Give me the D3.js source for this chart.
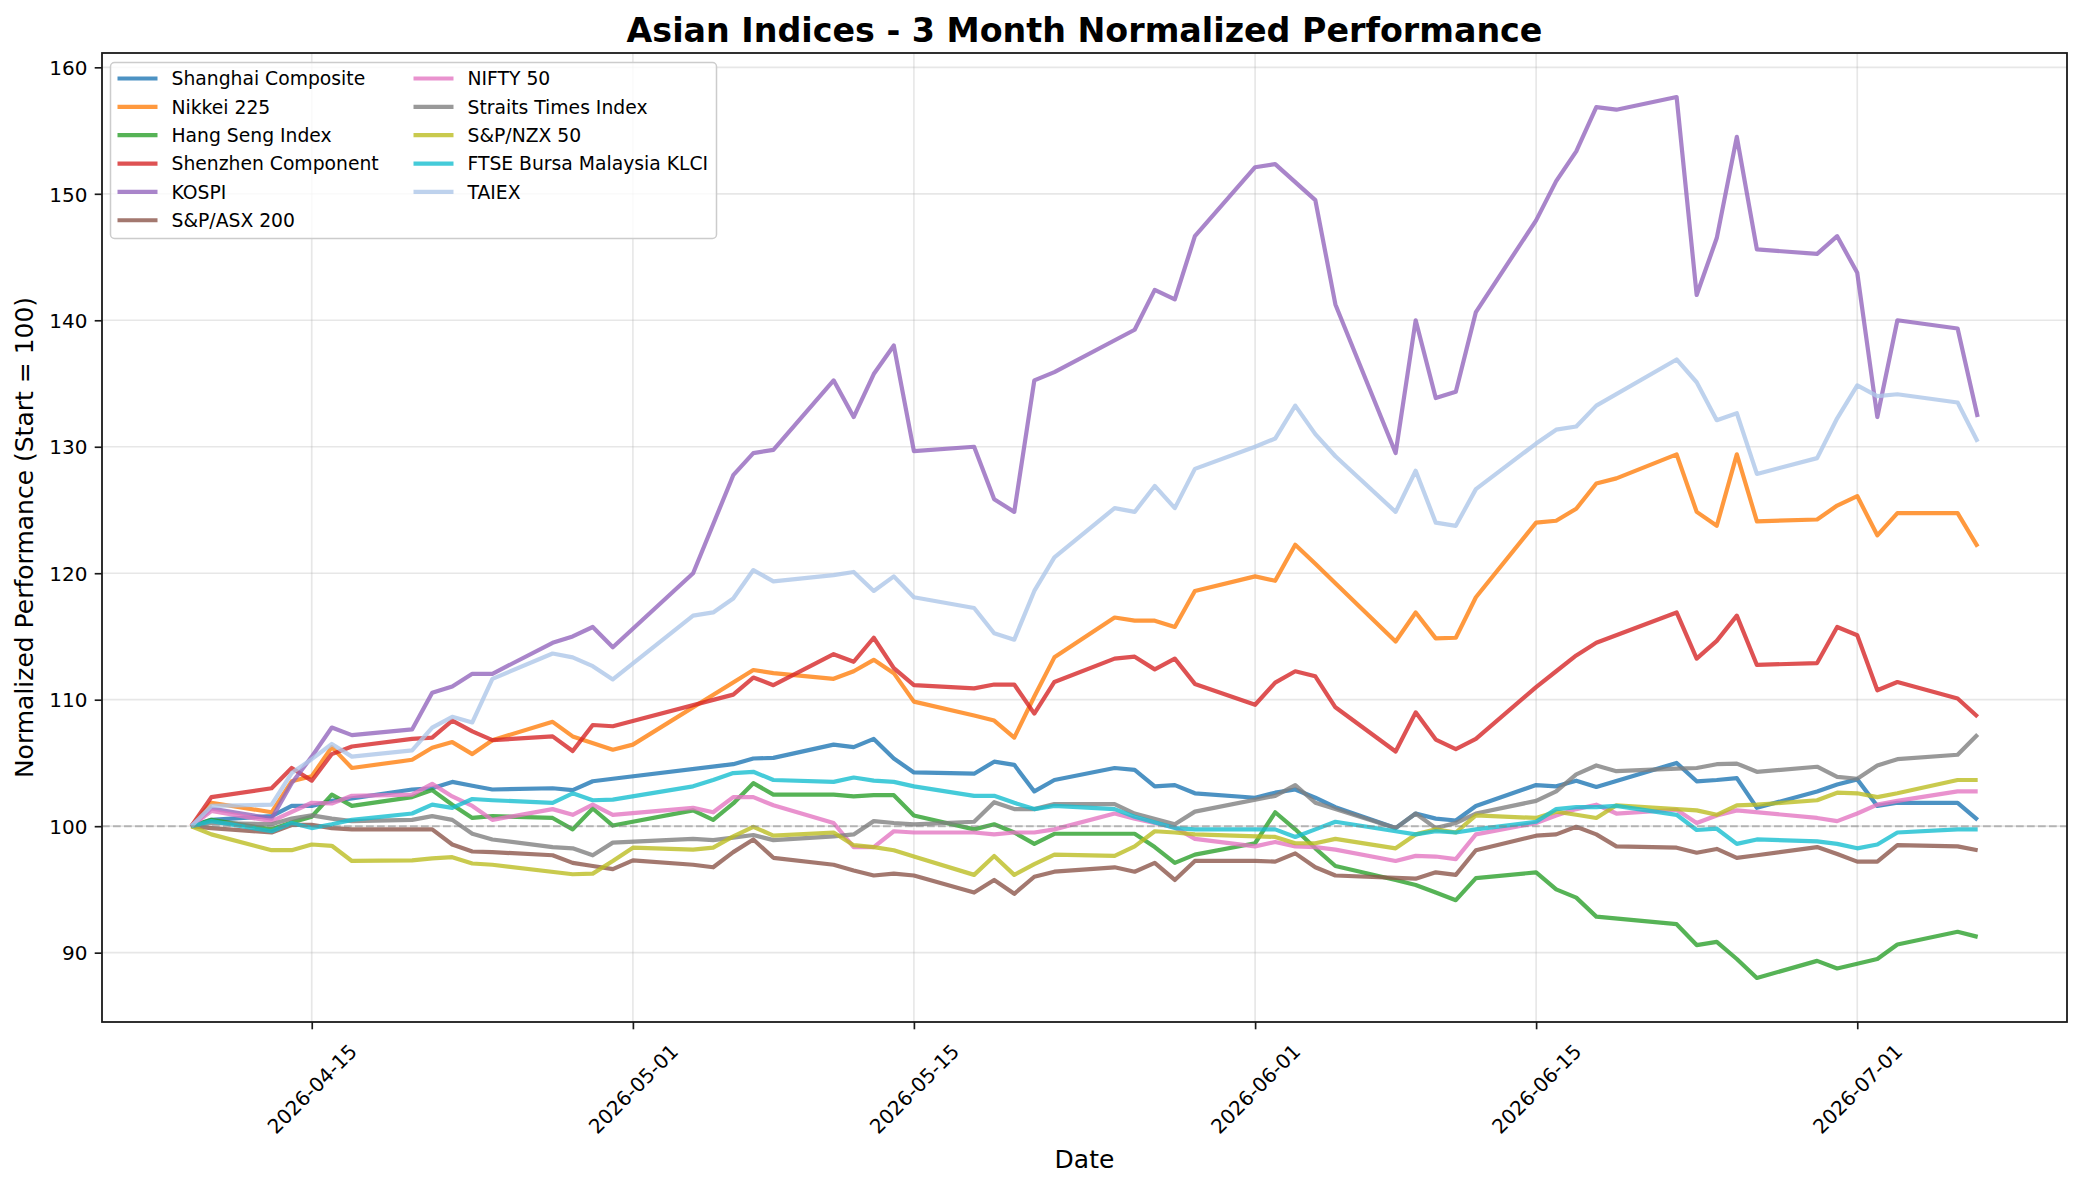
<!DOCTYPE html>
<html><head><meta charset="utf-8">
<script src="https://cdn.jsdelivr.net/npm/d3@7"></script>
<style>
html,body{margin:0;padding:0;background:#fff;}
svg{display:block;font-family:"DejaVu Sans",sans-serif;}
</style></head><body>
<svg id="chart" width="2082" height="1184"></svg>
<script>
const dates = ["2026-04-09","2026-04-10","2026-04-13","2026-04-14","2026-04-15","2026-04-16","2026-04-17",
"2026-04-20","2026-04-21","2026-04-22","2026-04-23","2026-04-24","2026-04-27","2026-04-28","2026-04-29","2026-04-30","2026-05-01",
"2026-05-04","2026-05-05","2026-05-06","2026-05-07","2026-05-08","2026-05-11","2026-05-12","2026-05-13","2026-05-14","2026-05-15",
"2026-05-18","2026-05-19","2026-05-20","2026-05-21","2026-05-22","2026-05-25","2026-05-26","2026-05-27","2026-05-28","2026-05-29",
"2026-06-01","2026-06-02","2026-06-03","2026-06-04","2026-06-05","2026-06-08","2026-06-09","2026-06-10","2026-06-11","2026-06-12",
"2026-06-15","2026-06-16","2026-06-17","2026-06-18","2026-06-19","2026-06-22","2026-06-23","2026-06-24","2026-06-25","2026-06-26",
"2026-06-29","2026-06-30","2026-07-01","2026-07-02","2026-07-03","2026-07-06","2026-07-07"];

const seriesNames = ["Shanghai Composite","Nikkei 225","Hang Seng Index","Shenzhen Component","KOSPI","S&P/ASX 200",
"NIFTY 50","Straits Times Index","S&P/NZX 50","FTSE Bursa Malaysia KLCI","TAIEX"];
const seriesColors = ["#1f77b4","#ff7f0e","#2ca02c","#d62728","#9467bd","#8c564b","#e377c2","#7f7f7f","#bcbd22","#17becf","#aec7e8"];

// null = market closed that day
const shanghai = [100,100.5,100.8,101.6,101.6,102.0,102.2,102.9,103.0,103.5,103.2,102.9,103.0,102.85,103.55,103.75,null,
null,null,104.9,105.35,105.4,106.45,106.25,106.9,105.35,104.25,104.15,105.1,104.85,102.75,103.65,104.6,104.45,103.15,103.25,102.6,
102.25,102.65,102.9,102.25,101.5,99.85,101.0,100.6,100.45,101.6,103.25,103.15,103.6,103.1,null,105.0,103.55,103.65,103.8,101.45,
102.75,103.3,103.7,101.6,101.85,101.85,100.5];
const nikkei = [100,101.85,101.1,103.55,103.95,106.25,104.6,105.25,106.2,106.65,105.7,106.8,108.25,107.1,null,106.05,106.45,
null,null,null,112.35,112.1,111.65,112.25,113.15,112.1,109.85,108.75,108.35,107.0,110.25,113.35,116.5,116.25,116.25,115.75,118.6,
119.75,119.4,122.25,120.75,119.2,114.6,116.9,114.85,114.9,118.1,124.0,124.15,125.1,127.1,127.5,129.4,124.85,123.75,129.4,124.1,
124.25,125.35,126.1,123.0,124.75,124.75,122.1];
const hangSeng = [100,100.5,99.75,100.3,100.75,102.5,101.6,102.3,102.85,101.7,100.65,100.8,100.65,99.75,101.4,100.05,null,
101.25,100.5,101.8,103.4,102.5,102.5,102.35,102.45,102.45,100.85,99.75,100.15,99.5,98.6,99.4,null,99.4,98.35,97.1,97.75,
98.65,101.1,99.75,98.25,96.85,95.75,95.35,94.75,94.15,95.9,96.35,95.0,94.35,92.85,null,92.25,90.6,90.85,89.5,88.0,
89.35,88.75,null,89.5,90.65,91.65,91.25];
const shenzhen = [100,102.3,103.0,104.6,103.6,105.7,106.3,106.9,107.0,108.35,107.5,106.8,107.1,105.95,108.0,107.9,null,
null,null,110.4,111.75,111.15,113.6,113.0,114.9,112.5,111.15,110.9,111.2,111.2,108.9,111.4,113.25,113.4,112.4,113.25,111.25,
109.6,111.35,112.25,111.85,109.4,105.9,109.0,106.85,106.1,106.9,111.0,112.25,113.5,114.5,null,116.9,113.25,114.65,116.65,112.75,
112.9,115.75,115.1,110.75,111.4,110.1,108.65];
const kospi = [100,101.4,100.6,103.4,105.5,107.8,107.2,107.65,110.55,111.05,112.05,112.05,114.5,115.0,115.75,114.15,null,
120.0,null,127.75,129.5,129.75,135.25,132.35,135.75,138.0,129.65,130.0,125.85,124.85,135.25,135.9,null,139.25,142.4,141.65,146.65,
152.1,152.35,null,149.5,141.25,129.5,140.0,133.85,134.35,140.65,147.9,151.0,153.35,156.85,156.65,157.65,142.0,146.5,154.5,145.6,
145.25,146.65,143.75,132.35,140.0,139.35,132.35];
const asx200 = [100,99.85,99.5,100.1,100.1,99.85,99.75,99.75,99.75,98.55,98.0,97.95,97.7,97.1,96.85,96.6,97.3,
96.95,96.75,97.95,98.95,97.5,96.95,96.5,96.1,96.25,96.1,94.75,95.75,94.65,96.0,96.4,96.75,96.4,97.1,95.75,97.25,
97.25,97.2,97.85,96.75,96.1,null,95.85,96.35,96.15,98.1,99.25,99.35,99.95,99.35,98.4,98.3,97.9,98.2,97.5,97.7,
98.35,97.8,97.2,97.2,98.5,98.4,98.1];
const nifty50 = [100,101.2,100.4,null,101.85,101.8,102.4,102.5,103.35,102.35,101.6,100.5,101.35,100.9,101.7,100.9,null,
101.45,101.1,102.3,102.3,101.65,100.25,98.35,98.35,99.6,99.5,99.5,99.35,99.5,99.5,99.75,101.0,100.6,100.25,99.9,99.0,
98.4,98.75,98.4,98.35,98.15,97.25,97.65,97.6,97.4,99.35,100.25,100.85,101.35,101.7,101.0,101.3,100.25,100.85,101.25,null,
100.65,100.4,101.0,101.7,102.0,102.75,102.75];
const straitsTimes = [100,100.25,100.15,100.6,100.85,100.6,100.4,100.5,100.8,100.5,99.4,98.95,98.35,98.25,97.7,98.7,null,
99.0,98.9,99.1,99.3,98.9,99.2,99.35,100.4,100.25,100.15,100.35,101.9,101.35,101.35,101.75,101.75,101.0,null,100.15,101.15,
null,102.4,103.25,101.85,101.35,99.85,101.0,99.85,100.25,101.0,102.0,102.75,104.1,104.8,104.35,104.55,104.6,104.9,104.95,104.3,
104.7,103.9,103.75,104.8,105.3,105.65,107.25];
const nzx50 = [100,99.35,98.1,98.1,98.55,98.45,97.25,97.3,97.45,97.55,97.05,96.95,null,96.2,96.25,97.25,98.3,
98.15,98.3,99.2,99.95,99.25,99.5,98.5,98.35,98.1,97.6,96.15,97.65,96.15,97.0,97.75,97.65,98.4,99.6,99.5,99.35,
null,99.15,98.65,98.65,99.0,98.25,99.35,99.75,99.5,100.85,100.65,101.15,100.9,100.65,101.65,101.35,101.25,100.9,101.65,101.7,
102.05,102.65,102.6,102.3,102.6,103.65,103.65];
const klci = [100,100.4,99.6,100.25,99.85,100.15,100.5,101.0,101.7,101.45,102.15,102.05,101.85,102.6,102.05,102.1,null,
103.15,103.65,104.2,104.3,103.65,103.5,103.85,103.6,103.5,103.15,102.4,102.4,101.85,101.35,101.6,101.35,100.75,null,99.85,99.75,
null,99.75,99.15,99.75,100.35,99.6,99.35,99.6,99.5,99.75,100.35,101.35,101.5,101.5,101.6,100.9,99.7,99.8,98.6,98.95,
98.8,98.6,98.25,98.55,99.5,99.75,99.75];
const taiex = [100,101.6,101.7,104.2,105.3,106.5,105.5,106.0,107.8,108.65,108.2,111.65,113.65,113.35,112.65,111.6,null,
116.65,116.9,118.0,120.25,119.35,119.85,120.1,118.6,119.75,118.1,117.25,115.25,114.75,118.6,121.25,125.15,124.85,126.9,125.15,128.25,
130.0,130.65,133.25,131.0,129.25,124.85,128.1,124.0,123.75,126.65,130.25,131.35,131.6,133.25,null,136.9,135.1,132.1,132.65,127.85,
129.1,132.25,134.85,134.0,134.15,133.5,130.4];

const xTickLabels = ["2026-04-15","2026-05-01","2026-05-15","2026-06-01","2026-06-15","2026-07-01"];
const yTickValues = [90,100,110,120,130,140,150,160];
const baselineValue = 100;

const seriesValues = [shanghai,nikkei,hangSeng,shenzhen,kospi,asx200,nifty50,straitsTimes,nzx50,klci,taiex];

const plot = {left: 102, right: 2067, top: 53, bottom: 1022};
const svg = d3.select("#chart");
const parse = d3.utcParse("%Y-%m-%d");
const dateObjs = dates.map(parse);

const series = seriesNames.map((name, i) => ({
  name, color: seriesColors[i],
  points: seriesValues[i].map((v, j) => ({date: dateObjs[j], value: v})).filter(p => p.value !== null)
}));

// scales with matplotlib-like 5% margins
const t0 = d3.min(dateObjs).getTime(), t1 = d3.max(dateObjs).getTime();
const tPad = (t1 - t0) * 0.05;
const x = d3.scaleUtc().domain([new Date(t0 - tPad), new Date(t1 + tPad)]).range([plot.left, plot.right]);
const allVals = seriesValues.flat().filter(v => v !== null);
const vMin = d3.min(allVals), vMax = d3.max(allVals);
const vPad = (vMax - vMin) * 0.05;
const y = d3.scaleLinear().domain([vMin - vPad, vMax + vPad]).range([plot.bottom, plot.top]);

const xTicks = xTickLabels.map(parse);
const LW = 4.2;

// grid
const grid = svg.append("g");
grid.selectAll("line.gx").data(xTicks).join("line")
  .attr("x1", d => x(d)).attr("x2", d => x(d)).attr("y1", plot.top).attr("y2", plot.bottom)
  .attr("stroke", "#b0b0b0").attr("stroke-opacity", 0.3).attr("stroke-width", 1.67);
grid.selectAll("line.gy").data(yTickValues).join("line")
  .attr("x1", plot.left).attr("x2", plot.right).attr("y1", d => y(d)).attr("y2", d => y(d))
  .attr("stroke", "#b0b0b0").attr("stroke-opacity", 0.3).attr("stroke-width", 1.67);

// lines
const line = d3.line().x(d => x(d.date)).y(d => y(d.value));
svg.append("g").selectAll("path").data(series).join("path")
  .attr("d", d => line(d.points))
  .attr("fill", "none").attr("stroke", d => d.color).attr("stroke-opacity", 0.8)
  .attr("stroke-width", LW).attr("stroke-linejoin", "round").attr("stroke-linecap", "butt");

// baseline
svg.append("line").attr("x1", plot.left).attr("x2", plot.right)
  .attr("y1", y(baselineValue)).attr("y2", y(baselineValue))
  .attr("stroke", "#808080").attr("stroke-opacity", 0.5).attr("stroke-width", 2)
  .attr("stroke-dasharray", "7.7,3.3");

// axes frame
svg.append("rect").attr("x", plot.left).attr("y", plot.top)
  .attr("width", plot.right - plot.left).attr("height", plot.bottom - plot.top)
  .attr("fill", "none").attr("stroke", "#1a1a1a").attr("stroke-width", 1.8);

// x axis
const xAxis = d3.axisBottom(x).tickValues(xTicks).tickSize(7.3).tickPadding(0).tickFormat(d3.utcFormat("%Y-%m-%d"));
const gx = svg.append("g").attr("transform", `translate(0,${plot.bottom})`).call(xAxis);
gx.select(".domain").remove();
gx.selectAll(".tick line").attr("stroke", "#1a1a1a").attr("stroke-width", 1.67);
gx.selectAll(".tick text")
  .attr("font-size", 20).attr("fill", "#000").attr("font-family", "DejaVu Sans")
  .attr("text-anchor", "middle").attr("dominant-baseline", "central")
  .attr("y", 0).attr("dy", 0)
  .attr("transform", "translate(0,67) rotate(-45)");

// y axis
const yAxis = d3.axisLeft(y).tickValues(yTickValues).tickSize(7.3).tickPadding(7.3).tickFormat(d3.format("d"));
const gy = svg.append("g").attr("transform", `translate(${plot.left},0)`).call(yAxis);
gy.select(".domain").remove();
gy.selectAll(".tick line").attr("stroke", "#1a1a1a").attr("stroke-width", 1.67);
gy.selectAll(".tick text").attr("font-size", 20).attr("fill", "#000").attr("font-family", "DejaVu Sans")
  .attr("dy", "0.36em");

// titles
svg.append("text").attr("x", (plot.left + plot.right) / 2).attr("y", 41.5)
  .attr("text-anchor", "middle").attr("font-size", 33.3).attr("font-weight", "bold")
  .text("Asian Indices - 3 Month Normalized Performance");
svg.append("text").attr("x", (plot.left + plot.right) / 2).attr("y", 1168)
  .attr("text-anchor", "middle").attr("font-size", 25).text("Date");
svg.append("text").attr("transform", `translate(33,${(plot.top + plot.bottom) / 2}) rotate(-90)`)
  .attr("text-anchor", "middle").attr("font-size", 25).text("Normalized Performance (Start = 100)");

// legend
const leg = svg.append("g");
leg.append("rect").attr("x", 110.5).attr("y", 62.5).attr("width", 606).attr("height", 176)
  .attr("rx", 4).attr("fill", "#fff").attr("fill-opacity", 0.8).attr("stroke", "#cccccc").attr("stroke-width", 1.5);
const rows = 6, rowH = 28.35, fs = 18.75;
series.forEach((s, i) => {
  const col = Math.floor(i / rows), row = i % rows;
  const cy = 78.5 + row * rowH;
  const hx = col === 0 ? 117.5 : 413.5;
  leg.append("line").attr("x1", hx).attr("x2", hx + 40).attr("y1", cy).attr("y2", cy)
    .attr("stroke", s.color).attr("stroke-opacity", 0.8).attr("stroke-width", LW);
  leg.append("text").attr("x", hx + 54).attr("y", cy + 0.36 * fs).attr("font-size", fs).text(s.name);
});
</script>
</body></html>
